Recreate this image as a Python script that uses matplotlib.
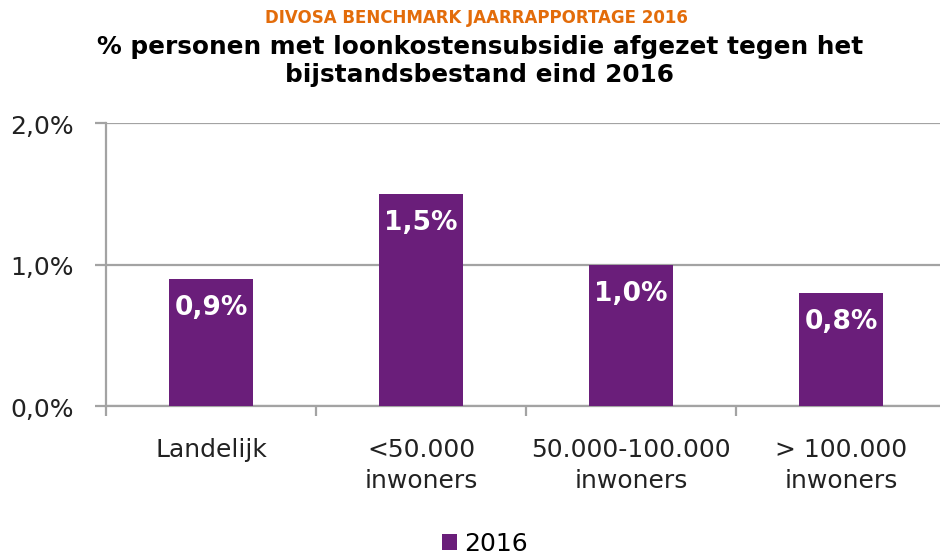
import matplotlib.pyplot as plt
import numpy as np

plt.rcParams['font.family'] = 'DejaVu Sans'

categories = ['Landelijk', '<50.000\ninwoners', '50.000-100.000\ninwoners', '> 100.000\ninwoners']
values_2016 = [0.9, 1.5, 1.0, 0.8]
labels_2016 = ['0,9%', '1,5%', '1,0%', '0,8%']
yticks = [0.0, 1.0, 2.0]
ytick_labels = ['0,0%', '1,0%', '2,0%']

bar_color = '#6A1E7A'
grid_color = '#A3A3A3'

fig = plt.figure(figsize=(9.4, 5.57), dpi=100)
ax = fig.add_axes([106 / 940, 1 - 406 / 557, 840 / 940, 283 / 557])

x = np.arange(len(categories))
ax.bar(x, values_2016, width=0.4, color=bar_color, zorder=3, label='2016')

for xi, v, lab in zip(x, values_2016, labels_2016):
    ax.annotate(lab, (xi, v), xytext=(0, -21), textcoords='offset points',
                ha='center', va='center', color='white', fontsize=19, fontweight='bold', zorder=4)

ax.set_xlim(-0.5, len(categories) - 0.5)
ax.set_ylim(0, 2.0)
ax.set_yticks(yticks)
ax.set_yticklabels(ytick_labels, fontsize=18, color='#222222', va='top')
for t in ax.get_yticklabels():
    t.set_y(t.get_position()[1])
ax.yaxis.grid(True, color=grid_color, linewidth=1.6, zorder=0)

# category labels in the middle, ticks on the category boundaries
ax.set_xticks(x)
ax.set_xticklabels(categories, fontsize=18, color='#222222', linespacing=1.35)
ax.tick_params(axis='x', which='major', length=0, pad=23)
ax.set_xticks(np.arange(-0.5, len(categories), 1.0), minor=True)
ax.tick_params(axis='x', which='minor', length=7, width=1.6, color=grid_color, direction='out')
ax.tick_params(axis='y', length=8, width=1.6, color=grid_color, pad=15)

# nudge y tick labels a little below their gridlines, like the original
import matplotlib.transforms as mtransforms
offset = mtransforms.ScaledTranslation(0, -4 / 100, fig.dpi_scale_trans)
for t in ax.get_yticklabels():
    t.set_verticalalignment('center')
    t.set_transform(t.get_transform() + offset)

for s in ['top', 'right']:
    ax.spines[s].set_visible(False)
for s in ['left', 'bottom']:
    ax.spines[s].set_color(grid_color)
    ax.spines[s].set_linewidth(1.6)

fig.text(476 / 940, 1 - 18 / 557, 'DIVOSA BENCHMARK JAARRAPPORTAGE 2016', ha='center', va='center',
         fontsize=12, fontweight='bold', color='#E36C0A')
fig.text(480 / 940, 1 - 61 / 557, '% personen met loonkostensubsidie afgezet tegen het\nbijstandsbestand eind 2016',
         ha='center', va='center', fontsize=17.8, fontweight='bold', color='black', linespacing=1.25)

fig.legend(loc='center', bbox_to_anchor=(485 / 940, 1 - 544 / 557), frameon=False, fontsize=18,
           handlelength=0.6, handleheight=0.6, handletextpad=0.3)

fig.savefig('out.png', dpi=100)
